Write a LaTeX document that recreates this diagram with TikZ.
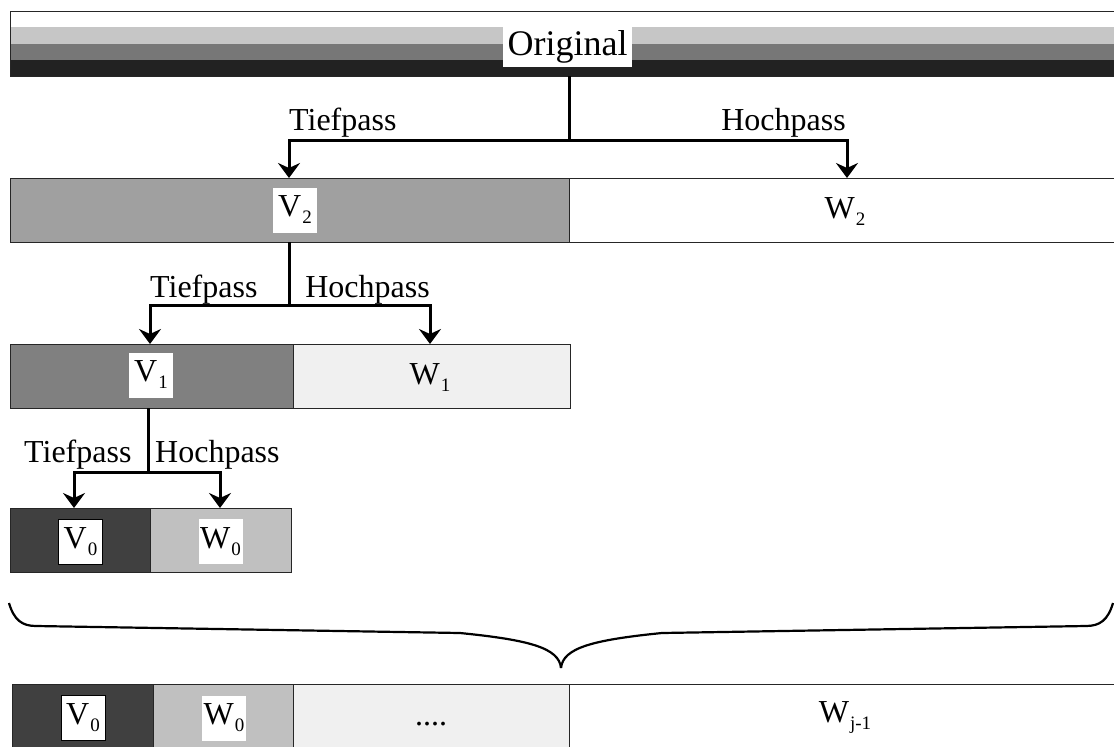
\documentclass[tikz,border=0pt]{standalone}
\usepackage{fontspec}
\setmainfont{Liberation Serif}
\usetikzlibrary{arrows.meta,calc}
\definecolor{band1}{HTML}{C6C6C6}
\definecolor{band2}{HTML}{777777}
\definecolor{band3}{HTML}{222222}
\definecolor{cVtwo}{HTML}{A0A0A0}
\definecolor{cVone}{HTML}{808080}
\definecolor{cWone}{HTML}{F0F0F0}
\definecolor{cVzero}{HTML}{404040}
\definecolor{cWzero}{HTML}{C0C0C0}
\newcommand\sublab[2]{#1\kern1pt\raisebox{-7pt}{\fontsize{19}{19}\selectfont #2}}
\begin{document}
\begin{tikzpicture}[x=1pt,y=-1pt,
  seg/.style={draw=black!85, line width=0.8pt, inner sep=0pt, outer sep=0pt, anchor=north west},
  lbl/.style={fill=white, inner sep=0pt, outer sep=0pt, minimum width=44pt, minimum height=45pt, font=\fontsize{32}{32}\selectfont},
  lblb/.style={lbl, draw=black, line width=0.8pt},
  txt/.style={inner sep=0pt, font=\fontsize{32}{32}\selectfont},
  conn/.style={line width=3pt},
  arr/.style={conn, -{Stealth[length=15pt,width=22pt,inset=5pt]}},
  brace/.style={line width=2.2pt}
]
\useasboundingbox (0,0) rectangle (1114,747);
\clip (0,0) rectangle (1114,747);

% top bar
\fill[white] (10,11) rectangle (1120,27);
\fill[band1] (10,27) rectangle (1120,44);
\fill[band2] (10,44) rectangle (1120,60);
\fill[band3] (10,60) rectangle (1120,76);
\node[seg, minimum width=1110pt, minimum height=65pt] (orig) at (10,11) {};
\node[lbl, minimum width=129pt, minimum height=40pt, font=\fontsize{36}{36}\selectfont] (origlbl) at (567.5,47) {Original};

% row 1
\node[seg, fill=cVtwo, minimum width=559pt, minimum height=64pt] (v2) at (10,178) {};
\node[seg, fill=white, minimum width=551pt, minimum height=64pt] (w2) at (569,178) {};
\node[lbl] (v2lbl) at (295,210) {\sublab{V}{2}};
\node[txt] (w2lbl) at (845,212) {\sublab{W}{2}};

% row 2
\node[seg, fill=cVone, minimum width=283pt, minimum height=64pt] (v1) at (10,344) {};
\node[seg, fill=cWone, minimum width=277pt, minimum height=64pt] (w1) at (293,344) {};
\node[lbl] (v1lbl) at (151,375) {\sublab{V}{1}};
\node[txt] (w1lbl) at (430,378) {\sublab{W}{1}};

% row 3
\node[seg, fill=cVzero, minimum width=140pt, minimum height=64pt] (v0) at (10,508) {};
\node[seg, fill=cWzero, minimum width=141pt, minimum height=64pt] (w0) at (150,508) {};
\node[lblb] (v0lbl) at (80.5,541.5) {\sublab{V}{0}};
\node[lbl] (w0lbl) at (220.5,541.5) {\sublab{W}{0}};

% bottom row
\node[seg, fill=cVzero, minimum width=141pt, minimum height=70pt] (b0) at (12,684) {};
\node[seg, fill=cWzero, minimum width=140pt, minimum height=70pt] (b1) at (153,684) {};
\node[seg, fill=cWone, minimum width=276pt, minimum height=70pt] (b2) at (293,684) {};
\node[seg, fill=white, minimum width=551pt, minimum height=70pt] (b3) at (569,684) {};
\node[lblb] (b0lbl) at (83,718) {\sublab{V}{0}};
\node[lbl] (b1lbl) at (224,718) {\sublab{W}{0}};
\node[txt, anchor=base] (b2lbl) at (431,725) {....};
\node[txt] (b3lbl) at (845,718) {\sublab{W}{j-1}};

% level 1 split
\coordinate (s1) at (569,140);
\coordinate (t1) at (289,178);
\coordinate (h1) at (847,178);
\draw[conn] (orig.south -| s1) -- (s1);
\draw[arr] (s1) -| (t1);
\draw[arr] (s1) -| (h1);
\node[txt, anchor=base west] (tp1) at (289,130) {Tiefpass};
\node[txt, anchor=base east] (hp1) at (846,130) {Hochpass};

% level 2 split
\coordinate (s2) at (289,305);
\coordinate (t2) at (150,344);
\coordinate (h2) at (430,344);
\draw[conn] (v2.south -| s2) -- (s2);
\draw[arr] (s2) -| (t2);
\draw[arr] (s2) -| (h2);
\node[txt, anchor=base west] (tp2) at (150,297) {Tiefpass};
\node[txt, anchor=base east] (hp2) at (430,297) {Hochpass};

% level 3 split
\coordinate (s3) at (148,472);
\coordinate (t3) at (74,508);
\coordinate (h3) at (220,508);
\draw[conn] (v1.south -| s3) -- (s3);
\draw[arr] (s3) -| (t3);
\draw[arr] (s3) -| (h3);
\node[txt, anchor=base west] (tp3) at (24,462) {Tiefpass};
\node[txt, anchor=base west] (hp3) at (155,462) {Hochpass};

% brace
\coordinate (bl) at (9,603);
\coordinate (bt) at (561,668);
\coordinate (br) at (1113,603);
\draw[brace] (bl) .. controls (14,620) and (22,626) .. (36,626) -- (460,633)
  .. controls (530,640) and (559,648) .. (bt);
\draw[brace] (br) .. controls (1108,620) and (1100,626) .. (1086,626) -- (662,633)
  .. controls (592,640) and (563,648) .. (bt);
\end{tikzpicture}
\end{document}
